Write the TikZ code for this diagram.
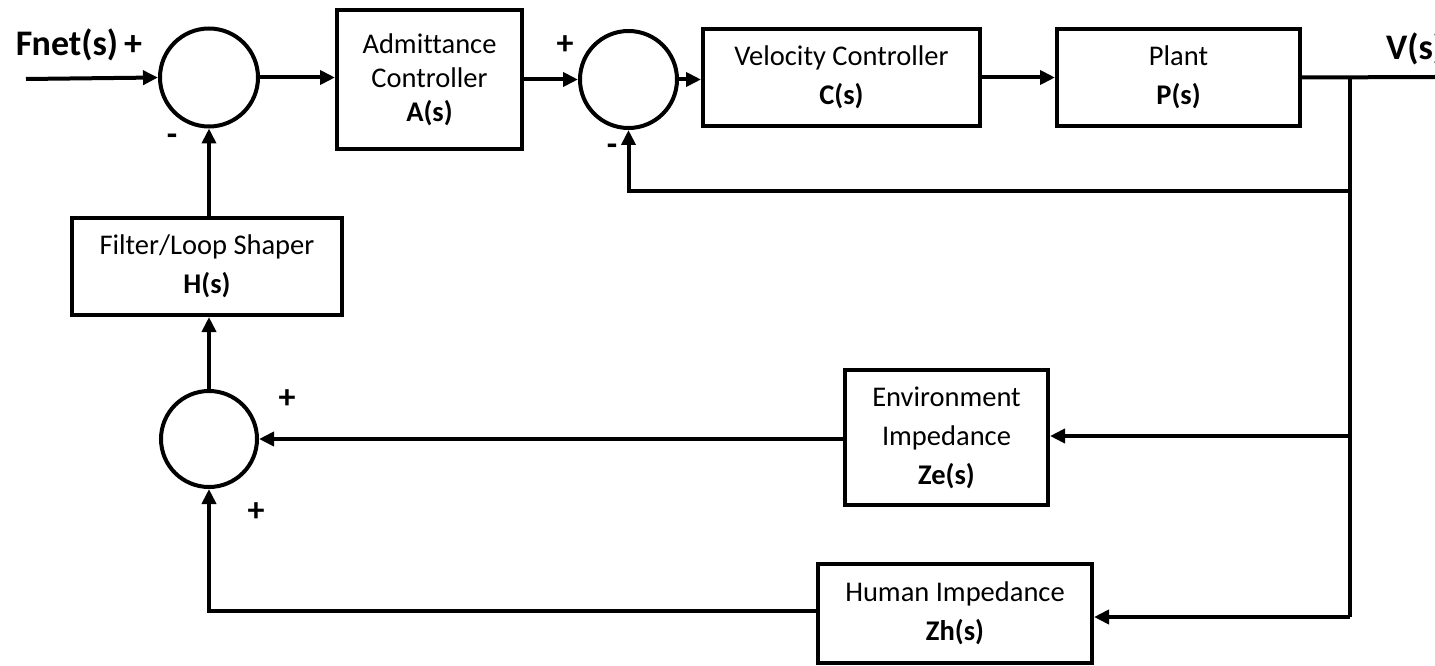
\documentclass[tikz,border=0pt]{standalone}
\usepackage{fontspec}
\setmainfont{Carlito}[Ligatures=CommonOff]
\usetikzlibrary{arrows.meta,calc}
\begin{document}
\begin{tikzpicture}[x=1pt,y=-1pt,
  every path/.style={line width=4pt},
  blk/.style={draw,line width=4pt,rectangle,inner sep=0pt,align=center,font=\fontsize{28.5}{39}\selectfont},
  sumj/.style={draw,line width=4pt,circle,inner sep=0pt},
  sig/.style={font=\fontsize{34}{40}\selectfont\bfseries,inner sep=0pt},
  big/.style={font=\fontsize{36}{40}\selectfont\bfseries,inner sep=0pt},
  conn/.style={line width=4pt,-{Triangle[length=15pt,width=14pt]}},
  wire/.style={line width=4pt}]
\useasboundingbox (0,0) rectangle (1435,666);
% summing junctions
\node[sumj,minimum size=98pt] (s1) at (209,77.5) {};
\node[sumj,minimum size=97pt] (s2) at (628.5,79.5) {};
\node[sumj,minimum size=96pt] (s3) at (209,439) {};
% blocks
\node[blk,minimum width=185pt,minimum height=139pt,font=\fontsize{28.5}{34}\selectfont] (A) at (429.5,79.5) {Admittance\\Controller\\\textbf{A(s)}};
\node[blk,minimum width=277pt,minimum height=97pt] (C) at (841.5,77.5) {Velocity Controller\\\textbf{C(s)}};
\node[blk,minimum width=243pt,minimum height=97pt] (P) at (1178.5,77.5) {Plant\\\textbf{P(s)}};
\node[blk,minimum width=270pt,minimum height=97pt] (H) at (207,266.5) {Filter/Loop Shaper\\\textbf{H(s)}};
\node[blk,minimum width=203pt,minimum height=135pt] (E) at (946.5,437.5) {Environment\\Impedance\\\textbf{Ze(s)}};
\node[blk,minimum width=274pt,minimum height=99pt] (Hm) at (955,613.5) {Human Impedance\\\textbf{Zh(s)}};
% labels
\node[big,anchor=west] (fnet) at (14,45) {Fnet(s)\,+};
\node[big,anchor=west] (vs) at (1384,49) {V(s)};
\node[sig] (p2) at (565,45) {+};
\node[sig] (m2) at (612,150) {-};
\node[sig] (m1) at (172,140) {-};
\node[sig] (p3a) at (287,399) {+};
\node[sig] (p3b) at (256,512) {+};
% coordinates
\coordinate (in) at (26,79);
\coordinate (out) at (1435,77);
\coordinate (br) at (1350,77);
\coordinate (fb2) at (1350,191);
\coordinate (fbE) at (1350,436);
\coordinate (fbH) at (1350,617);
% connectors
\draw[conn] (in) -- (s1.west);
\draw[conn] (s1.east) -- (A.west |- s1.east);
\draw[conn] (A.east |- s2.west) -- (s2.west);
\draw[conn] (s2.east) -- (C.west |- s2.east);
\draw[conn] (C.east) -- (P.west);
\draw[wire] (P.east) -- (out);
\draw[wire] (br) -- (fbH);
\draw[conn] (fb2) -| (s2.south);
\draw[conn] (fbE) -- (E.east |- fbE);
\draw[conn] (fbH) -- (Hm.east |- fbH);
\draw[conn] (E.west |- s3.east) -- (s3.east);
\draw[conn] (Hm.west |- 0,611) -| (s3.south);
\draw[conn] (s3.north) -- (s3.north |- H.south);
\draw[conn] (s1.south |- H.north) -- (s1.south);
\end{tikzpicture}
\end{document}
